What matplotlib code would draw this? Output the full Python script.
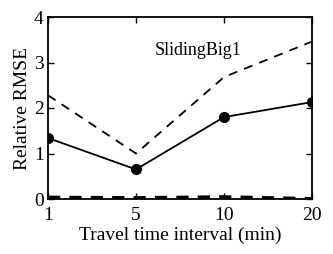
import matplotlib.pyplot as plt
import numpy as np

plt.rcParams['font.family'] = ['Liberation Serif', 'DejaVu Serif']

# data
intervals = ['1', '5', '10', '20']
solid_vals = [1.34, 0.65, 1.80, 2.13]
upper_dash = [2.28, 1.00, 2.68, 3.46]
lower_dash = [0.04, 0.03, 0.05, 0.01]

x = np.arange(len(intervals))

fig = plt.figure(figsize=(3.33, 2.54), dpi=100)
ax = fig.add_axes([48/333, 1 - 199/254, 264/333, 182/254])

ax.plot(x, upper_dash, 'k--', lw=1.3, dashes=(5, 4))
ax.plot(x, solid_vals, 'k-', lw=1.3, marker='o', ms=7)
ax.plot(x, lower_dash, 'k--', lw=2.2, dashes=(4, 3))

ax.text(1.71, 3.27, 'SlidingBig1', fontsize=13, ha='center', va='center')

ax.set_xlim(0, 3)
ax.set_ylim(0, 4)
ax.set_xticks(x)
ax.set_xticklabels(intervals)
ax.set_yticks([0, 1, 2, 3, 4])
ax.tick_params(direction='in', top=True, right=True, labelsize=14, length=4.5, width=1, pad=3)
ax.tick_params(axis='x', pad=6)
for s in ax.spines.values():
    s.set_linewidth(1.3)

ax.set_xlabel('Travel time interval (min)', fontsize=14, labelpad=2)
ax.set_ylabel('Relative RMSE', fontsize=14, labelpad=2)

fig.savefig('out.png', dpi=100)
